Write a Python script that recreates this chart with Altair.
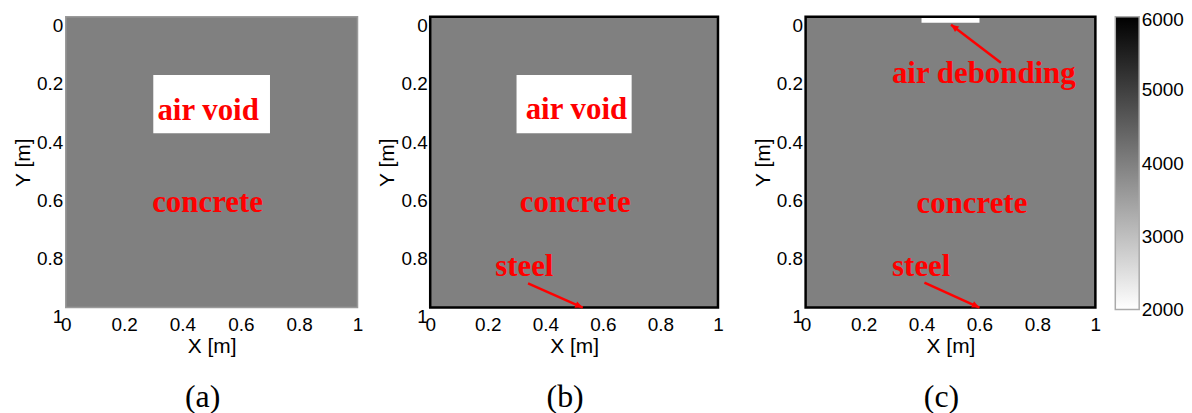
import altair as alt
import pandas as pd
import numpy as np

# ---- data ----
# velocity model regions (rectangles, in metres) per panel
rect_panel = ["a", "a", "b", "b", "c", "c"]
rect_kind = ["concrete", "air", "concrete", "air", "concrete", "air"]
rect_x0 = [0.0, 0.3, 0.0, 0.3, 0.0, 0.4]
rect_x1 = [1.0, 0.7, 1.0, 0.7, 1.0, 0.6]
rect_y0 = [0.0, 0.2, 0.0, 0.2, 0.0, 0.0]
rect_y1 = [1.0, 0.4, 1.0, 0.4, 1.0, 0.02]
rect_v = [4000, 2000, 4000, 2000, 4000, 2000]

# annotation labels
lab_panel = ["a", "a", "b", "b", "b", "c", "c", "c"]
lab_text = ["air void", "concrete", "air void", "concrete", "steel",
            "air debonding", "concrete", "steel"]
lab_x = [0.488, 0.486, 0.508, 0.504, 0.327, 0.615, 0.574, 0.399]
lab_y = [0.354, 0.670, 0.351, 0.670, 0.893, 0.227, 0.673, 0.893]

# arrows (tail -> tip)
arr_panel = ["b", "c", "c"]
arr_x0 = [0.34, 0.41, 0.674]
arr_y0 = [0.917, 0.914, 0.158]
arr_x1 = [0.53, 0.60, 0.502]
arr_y1 = [1.0, 1.0, 0.027]

ticks = [0, 0.2, 0.4, 0.6, 0.8, 1]
cbar_min = [2000]
cbar_max = [6000]
cbar_ticks = [2000, 3000, 4000, 5000, 6000]
captions = {"a": "(a)", "b": "(b)", "c": "(c)"}

rects = pd.DataFrame(dict(panel=rect_panel, kind=rect_kind, x0=rect_x0, x1=rect_x1,
                          y0=rect_y0, y1=rect_y1, v=rect_v))
labs = pd.DataFrame(dict(panel=lab_panel, text=lab_text, x=lab_x, y=lab_y))
arrs = pd.DataFrame(dict(panel=arr_panel, x0=arr_x0, y0=arr_y0, x1=arr_x1, y1=arr_y1))
cbar = pd.DataFrame(dict(lo=cbar_min, hi=cbar_max))

sizes = {"a": (293, 292), "b": (289, 292), "c": (291, 292)}
frames = {"a": ("#9a9a9a", 1.5), "b": ("black", 2.5), "c": ("black", 2.5)}

SANS = "Liberation Sans"
SERIF = "Liberation Serif"

xscale = alt.Scale(domain=[0, 1], nice=False, zero=False)
yscale = alt.Scale(domain=[0, 1], nice=False, zero=False, reverse=True)
cscale = alt.Scale(domain=[cbar_min[0], cbar_max[0]], range=["white", "black"],
                   interpolate="rgb")


def panel(p):
    w, h = sizes[p]
    r = rects[rects.panel == p]
    xax = alt.Axis(values=ticks, format="~g", title="X [m]", labelFlush=False,
                   labelPadding=8, titlePadding=1)
    yax = alt.Axis(values=ticks, format="~g", title="Y [m]", labelBaseline="top",
                   labelPadding=3, titlePadding=3)
    base_rect = alt.Chart(r).mark_rect().encode(
        x=alt.X("x0:Q", scale=xscale, axis=xax),
        x2="x1:Q",
        y=alt.Y("y0:Q", scale=yscale, axis=yax),
        y2="y1:Q",
        color=alt.Color("v:Q", scale=cscale, legend=None),
    )
    stroke, sw = frames[p]
    frame = alt.Chart(r[r.kind == "concrete"]).mark_rect(
        filled=False, stroke=stroke, strokeWidth=sw).encode(
        x="x0:Q", x2="x1:Q", y="y0:Q", y2="y1:Q")
    layers = [base_rect, frame]
    a = arrs[arrs.panel == p].copy()
    if len(a):
        dxp = (a.x1 - a.x0) * w
        dyp = (a.y1 - a.y0) * h
        a["ang"] = (np.degrees(np.arctan2(dyp, dxp)) + 360) % 360
        line = alt.Chart(a).mark_rule(color="red", strokeWidth=2.5).encode(
            x="x0:Q", y="y0:Q", x2="x1:Q", y2="y1:Q")
        head = alt.Chart(a).mark_point(
            shape="M0,0L-1,-0.45L-1,0.45Z", filled=True, color="red",
            size=230, opacity=1, strokeWidth=0).encode(
            x="x1:Q", y="y1:Q", angle=alt.Angle("ang:Q", scale=None))
        layers += [line, head]
    l = labs[labs.panel == p]
    txt = alt.Chart(l).mark_text(font=SERIF, fontWeight="bold", fontSize=31,
                                 color="red", align="center",
                                 baseline="alphabetic").encode(
        x="x:Q", y="y:Q", text="text:N")
    layers.append(txt)
    return alt.layer(*layers).properties(
        width=w, height=h,
        title=alt.TitleParams(captions[p], orient="bottom", font=SERIF, fontSize=32,
                              fontWeight="normal", color="black", anchor="middle",
                              frame="group", dx=-9, offset=26),
    )


grad = alt.LinearGradient(
    gradient="linear", x1=0, x2=0, y1=1, y2=0,
    stops=[alt.GradientStop(offset=0, color="white"),
           alt.GradientStop(offset=1, color="black")],
)
colorbar = alt.Chart(cbar).mark_rect(
    color=grad, stroke="#aaaaaa", strokeWidth=1.5).encode(
    y=alt.Y("lo:Q", scale=alt.Scale(domain=[cbar_min[0], cbar_max[0]], nice=False,
                                     zero=False),
            axis=alt.Axis(orient="right", values=cbar_ticks, format="d", title=None,
                          labelPadding=2, labelFontSize=19, labelBaseline="middle",
                          labelOffset=alt.ExprRef(
                              "datum.value >= 6000 ? 3 : 0"))),
    y2="hi:Q",
).properties(width=24, height=294)

chart = alt.hconcat(
    alt.hconcat(
        alt.hconcat(panel("a"), panel("b"), spacing=13),
        panel("c"),
        spacing=28,
    ),
    colorbar,
    spacing=13,
).properties(
    padding={"left": 4, "top": 2, "right": 0, "bottom": 0}
).configure_view(stroke=None).configure_axis(
    labelFont=SANS, labelFontSize=19, labelColor="black",
    titleFont=SANS, titleFontSize=21, titleFontWeight="normal", titleColor="black",
    ticks=False, domain=False, grid=False,
)

chart.save("out.html", embed_options={"renderer": "svg", "actions": False})
